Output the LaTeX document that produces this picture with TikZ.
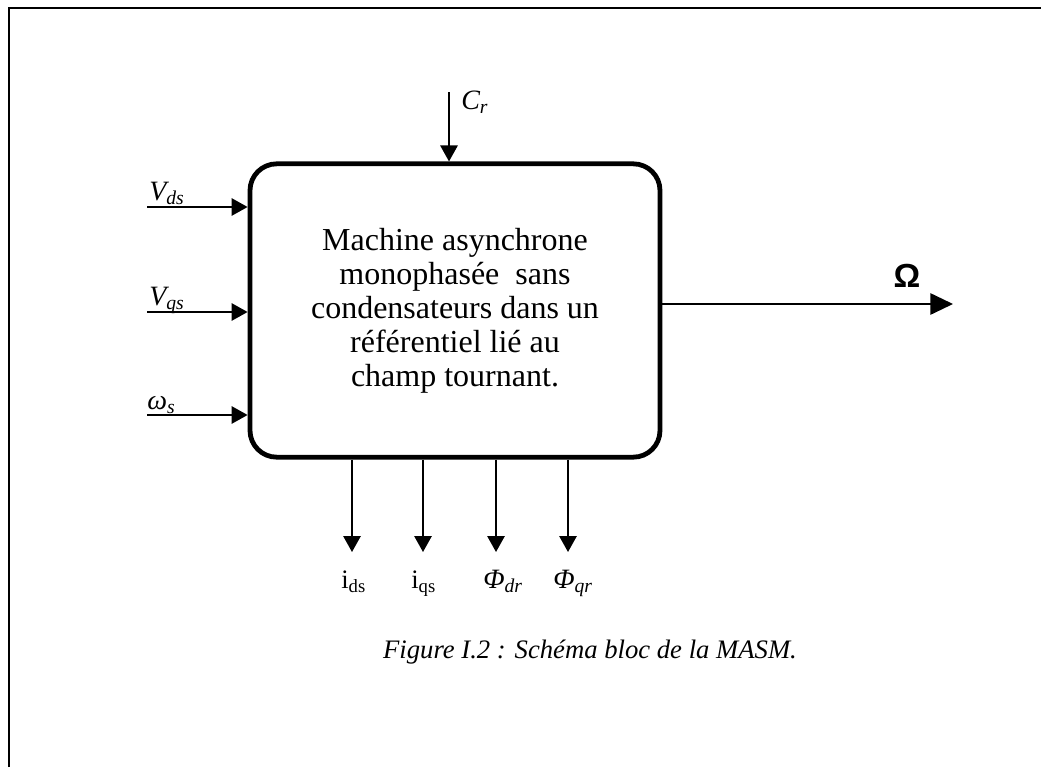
\documentclass[tikz,border=0pt]{standalone}
\usepackage{fontspec}
\setmainfont{Liberation Serif}
\newfontfamily\omegafont{Liberation Sans}
\usetikzlibrary{arrows.meta}
\begin{document}
\begin{tikzpicture}[x=0.75pt,y=-0.75pt,
  arr/.style={line width=1.4pt,-{Triangle[length=12pt,width=13pt]}},
  bigarr/.style={line width=1.4pt,-{Triangle[length=17pt,width=16pt]}},
  lab/.style={font=\fontsize{21}{24}\selectfont\itshape, inner sep=0pt, anchor=base west},
  labup/.style={font=\fontsize{20}{24}\selectfont, inner sep=0pt, anchor=base west},
  block/.style={draw, line width=3.6pt, rounded corners=20pt, minimum width=307.5pt,
    minimum height=220pt, align=center, inner sep=0pt,
    font=\fontsize{24}{25.5}\selectfont}]
\useasboundingbox (0,0) rectangle (1041,767);
\draw[line width=1.5pt] (9,767) -- (9,8) -- (1041,8);

\node[block] (m) at (455,310.5) {Machine asynchrone\\ monophasée\ \ sans\\ condensateurs dans un\\ référentiel lié au\\ champ tournant.};

% inputs
\coordinate (vds) at (147,207);
\coordinate (vqs) at (147,312);
\coordinate (ws) at (147,415);
\draw[arr] (vds) -- (vds -| m.west);
\draw[arr] (vqs) -- (vqs -| m.west);
\draw[arr] (ws) -- (ws -| m.west);
\node[lab] (lvds) at (149,200) {V\textsubscript{ds}};
\node[lab] (lvqs) at (149,305) {V\textsubscript{qs}};
\node[lab] (lws) at (147,409) {ω\textsubscript{s}};

% torque
\coordinate (cr) at (449,92);
\draw[arr] (cr) -- (cr |- m.north);
\node[lab] (lcr) at (461,109) {C\textsubscript{r}};

% outputs
\coordinate (ids) at (352,552);
\coordinate (iqs) at (423,552);
\coordinate (fdr) at (496,552);
\coordinate (fqr) at (568,552);
\draw[arr] (ids |- m.south) -- (ids);
\draw[arr] (iqs |- m.south) -- (iqs);
\draw[arr] (fdr |- m.south) -- (fdr);
\draw[arr] (fqr |- m.south) -- (fqr);
\node[labup] (lids) at (341,588) {i\textsubscript{ds}};
\node[labup] (liqs) at (411,588) {i\textsubscript{qs}};
\node[lab] (lfdr) at (483,588) {Φ\textsubscript{dr}};
\node[lab] (lfqr) at (553,588) {Φ\textsubscript{qr}};

% speed
\coordinate (om) at (953,304);
\draw[bigarr] (om -| m.east) -- (om);
\node[font=\fontsize{25}{30}\selectfont\omegafont\bfseries, inner sep=0pt, anchor=base] (lom) at (907,287) {Ω};

% caption
\node[font=\fontsize{20}{25}\selectfont\itshape, inner sep=0pt, anchor=base] (cap) at (590,658) {Figure I.2 : Schéma bloc de la MASM.};
\end{tikzpicture}
\end{document}
